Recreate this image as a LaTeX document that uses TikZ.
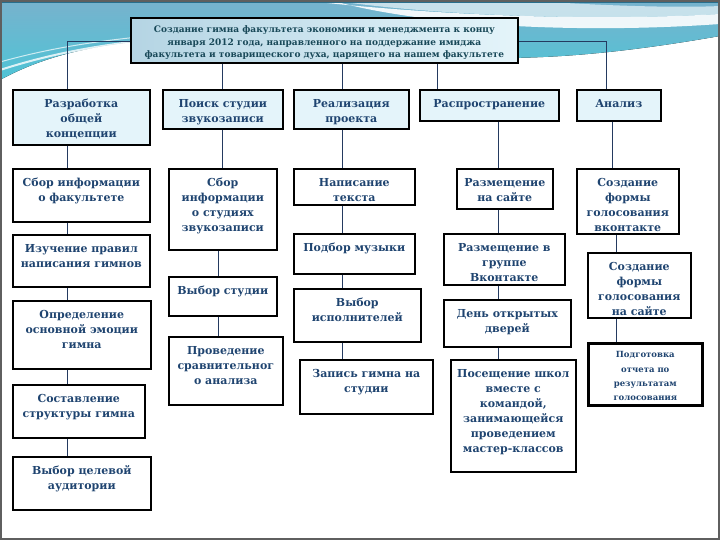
\documentclass[tikz,border=0pt]{standalone}
\usepackage{fontspec}
\setmainfont{DejaVu Serif}
\usepackage{tikz}
\usetikzlibrary{positioning}
\definecolor{inkblue}{RGB}{31,68,112}
\definecolor{inkteal}{RGB}{24,72,88}
\definecolor{linkblue}{RGB}{36,58,96}
\definecolor{stagefill}{RGB}{228,244,250}
\definecolor{swtop}{RGB}{120,178,205}
\definecolor{swbot}{RGB}{78,196,214}
\definecolor{swdark}{RGB}{40,110,140}
\definecolor{framegray}{RGB}{95,95,95}
\tikzstyle{stage} = [draw=black, line width=1.6pt, fill=stagefill, anchor=north west,
inner xsep=2pt, inner ysep=3pt, text=inkblue,
font=\bfseries\fontsize{11}{15}\selectfont]
\tikzstyle{task} = [stage, fill=white]
\tikzstyle{report} = [task, line width=2.6pt, inner ysep=1pt,
font=\bfseries\fontsize{8.5}{14.3}\selectfont]
\tikzstyle{goalbox} = [stage, left color=swtop!55, right color=stagefill, text=inkteal,
font=\bfseries\fontsize{9}{12.5}\selectfont]
\tikzstyle{link} = [draw=linkblue, line width=1pt]
% text sits at the top of each box
\newcommand{\boxtext}[3]{\parbox[t][#2][t]{#1}{\centering\rule{0pt}{0.95\baselineskip}#3}}
\newcommand{\cedge}[2]{ %
  % join each pair p/q of #2 down along column #1
  \foreach \p/\q in {#2} { %
    \draw[link] (\p.south -| #1) -- (\q.north -| #1) ;%
  } ;
}

\begin{document}
\begin{tikzpicture}[x=1pt, y=-1pt]
  \useasboundingbox (0,0) rectangle (720,540);
  % backdrop
  \fill[top color=swtop, bottom color=swbot] (0,0) -- (720,0) -- (720,36)
    .. controls (640,50) and (570,58) .. (500,58) -- (160,40)
    .. controls (90,44) and (40,58) .. (0,80) -- cycle;
  \fill[white, opacity=0.9] (300,0) .. controls (420,14) and (580,22) .. (720,14)
    -- (720,24) .. controls (580,34) and (420,26) .. (330,0) -- cycle;
  \fill[white, opacity=0.6] (330,0) -- (520,0) .. controls (600,6) and (680,8) .. (720,6)
    -- (720,14) .. controls (580,22) and (420,14) .. (330,0) -- cycle;
  \draw[white, line width=2pt, opacity=0.8] (0,70) .. controls (50,54) and (100,44) .. (170,38);
  \draw[white, line width=1pt, opacity=0.7] (0,62) .. controls (50,48) and (100,40) .. (170,34);
  \fill[swdark] (0,0) rectangle (720,3);
  \draw[framegray, line width=1.5pt] (1,1) rectangle (719,539);

  % columns
  \coordinate (bus) at (0,42);
  \coordinate (col1) at (67,0);
  \coordinate (col2) at (218,0);
  \coordinate (col3) at (342,0);
  \coordinate (col4) at (498,0);
  \coordinate (col5) at (616,0);

  % goal
  \node[goalbox] (goal) at (130,17) {\boxtext{383pt}{39pt}{Создание гимна факультета экономики и менеджмента к концу\\января 2012 года, направленного на поддержание имиджа\\факультета и товарищеского духа, царящего на нашем факультете}};

  % stages
  \node[stage] (dev)    at (12,89)  {\boxtext{133pt}{49pt}{Разработка\\общей\\концепции}};
  \node[stage] (studio) at (162,89) {\boxtext{116pt}{33pt}{Поиск студии\\звукозаписи}};
  \node[stage] (impl)   at (293,89) {\boxtext{111pt}{33pt}{Реализация\\проекта}};
  \node[stage] (spread) at (419,89) {\boxtext{135pt}{25pt}{Распространение}};
  \node[stage] (anal)   at (576,89) {\boxtext{80pt}{25pt}{Анализ}};

  % concept
  \node[task] (c11) at (12,168) {\boxtext{133pt}{47pt}{Сбор информации\\о факультете}};
  \node[task] (c12) at (12,234) {\boxtext{133pt}{46pt}{Изучение правил\\написания гимнов}};
  \node[task] (c13) at (12,300) {\boxtext{134pt}{62pt}{Определение\\основной эмоции\\гимна}};
  \node[task] (c14) at (12,384) {\boxtext{128pt}{47pt}{Составление\\структуры гимна}};
  \node[task] (c15) at (12,456) {\boxtext{134pt}{47pt}{Выбор целевой\\аудитории}};
  % studio
  \node[task] (c21) at (168,168) {\boxtext{104pt}{75pt}{Сбор\\информации\\о студиях\\звукозаписи}};
  \node[task] (c22) at (168,276) {\boxtext{104pt}{33pt}{Выбор студии}};
  \node[task] (c23) at (168,336) {\boxtext{110pt}{62pt}{Проведение\\сравнительног\\о анализа}};
  % project
  \node[task] (c31) at (293,168) {\boxtext{117pt}{30pt}{Написание\\текста}};
  \node[task] (c32) at (293,233) {\boxtext{117pt}{34pt}{Подбор музыки}};
  \node[task] (c33) at (293,288) {\boxtext{123pt}{47pt}{Выбор\\исполнителей}};
  \node[task] (c34) at (299,359) {\boxtext{129pt}{48pt}{Запись гимна на\\студии}};
  % spreading
  \node[task] (c41) at (456,168) {\boxtext{92pt}{34pt}{Размещение\\на сайте}};
  \node[task] (c42) at (443,233) {\boxtext{117pt}{45pt}{Размещение в\\группе\\Вконтакте}};
  \node[task] (c43) at (443,299) {\boxtext{123pt}{41pt}{День открытых\\дверей}};
  \node[task] (c44) at (450,359) {\boxtext{121pt}{106pt}{Посещение школ\\вместе с\\командой,\\занимающейся\\проведением\\мастер-классов}};
  % analysis
  \node[task] (c51) at (576,168) {\boxtext{98pt}{59pt}{Создание\\формы\\голосования\\вконтакте}};
  \node[task] (c52) at (587,252) {\boxtext{99pt}{59pt}{Создание\\формы\\голосования\\на сайте}};
  \node[report] (c53) at (587,342) {\boxtext{110pt}{60pt}{Подготовка\\отчета по\\результатам\\голосования}};

  % bus
  \draw[link] (goal.west |- bus) -| (dev.north -| col1);
  \draw[link] (goal.east |- bus) -| (anal.north -| 606,0);
  \draw[link] (goal.south -| 222,0) -- (studio.north -| 222,0);
  \draw[link] (goal.south -| col3) -- (impl.north -| col3);
  \draw[link] (goal.south -| 437,0) -- (spread.north -| 437,0);
  % columns
  \cedge {col1} {dev/c11, c11/c12, c12/c13, c13/c14, c14/c15}
  \draw[link] (studio.south -| 222,0) -- (c21.north -| 222,0);
  \cedge {col2} {c21/c22, c22/c23}
  \cedge {col3} {impl/c31, c31/c32, c32/c33, c33/c34}
  \cedge {col4} {spread/c41, c41/c42, c42/c43, c43/c44}
  \draw[link] (anal.south -| 612,0) -- (c51.north -| 612,0);
  \cedge {col5} {c51/c52, c52/c53}
\end{tikzpicture}
\end{document}
